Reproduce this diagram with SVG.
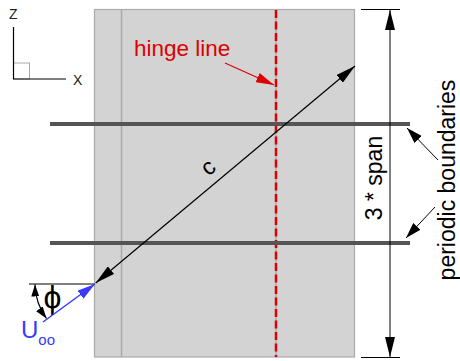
<svg xmlns="http://www.w3.org/2000/svg" width="460" height="361" viewBox="0 0 460 361">
<defs>
<style>
text{font-family:"Liberation Sans",Arial,sans-serif}
.blk{stroke:#000;stroke-width:1.2;fill:none}
.bar{stroke:#555;stroke-width:4}
.gl{stroke:#aaa;stroke-width:1.5}
</style>
<marker id="ah" viewBox="0 0 20 10" refX="20" refY="5" markerWidth="20" markerHeight="10" markerUnits="userSpaceOnUse" orient="auto-start-reverse"><path d="M0,0L20,5L0,10z" fill="#000"/></marker>
<marker id="ahs" viewBox="0 0 16 10" refX="16" refY="5" markerWidth="16" markerHeight="10" markerUnits="userSpaceOnUse" orient="auto-start-reverse"><path d="M0,0L16,5L0,10z" fill="#000"/></marker>
<marker id="ahr" viewBox="0 0 18 10" refX="18" refY="5" markerWidth="18" markerHeight="10" markerUnits="userSpaceOnUse" orient="auto"><path d="M0,0L18,5L0,10z" fill="#dd0000"/></marker>
<marker id="ahb" viewBox="0 0 18 10" refX="18" refY="5" markerWidth="18" markerHeight="10" markerUnits="userSpaceOnUse" orient="auto"><path d="M0,0L18,5L0,10z" fill="#3a3aff"/></marker>
<marker id="aha" viewBox="0 0 12 8" refX="12" refY="4" markerWidth="12" markerHeight="8" markerUnits="userSpaceOnUse" orient="auto-start-reverse"><path d="M0,0L12,4L0,8z" fill="#000"/></marker>
</defs>
<rect width="460" height="361" fill="#fff"/>
<g id="axes">
<rect x="13.5" y="63" width="16" height="16" fill="none" stroke="#aaa" stroke-width="1"/>
<line x1="13.5" y1="27" x2="13.5" y2="79" stroke="#000" stroke-width="1.2"/>
<line x1="13" y1="79" x2="66" y2="79" stroke="#000" stroke-width="1.2"/>
<text x="9" y="19" font-size="14" fill="#222">Z</text>
<text x="73" y="84.5" font-size="14" fill="#222">X</text>
</g>
<g id="domain">
<rect x="94.5" y="9.5" width="260" height="347.5" fill="#d3d3d3" stroke="#aaa" stroke-width="1.2"/>
<line class="gl" x1="121.5" y1="10" x2="121.5" y2="357"/>
<line class="gl" x1="276" y1="10" x2="276" y2="357"/>
</g>
<g id="hinge">
<line x1="276" y1="10" x2="276" y2="357" stroke="#dd0000" stroke-width="2.5" stroke-dasharray="8,3.5"/>
<text x="134" y="56" font-size="22.5" fill="#dd0000">hinge line</text>
</g>
<g id="boundaries">
<line class="bar" x1="50" y1="124" x2="410" y2="124"/>
<line class="bar" x1="50" y1="243" x2="410" y2="243"/>
<text transform="translate(455,180) rotate(-90)" font-size="23" text-anchor="middle" fill="#000">periodic boundaries</text>
</g>
<g id="span">
<line x1="361" y1="9.5" x2="400" y2="9.5" stroke="#000" stroke-width="1"/>
<line x1="361" y1="357.5" x2="400" y2="357.5" stroke="#000" stroke-width="1"/>
<text transform="translate(382,178) rotate(-90)" font-size="23" text-anchor="middle" fill="#000">3 * span</text>
</g>
<g id="chord">
<text transform="translate(213,173) rotate(-40)" font-size="23" text-anchor="middle" fill="#000">c</text>
</g>
<g id="inflow">
<line x1="29" y1="284" x2="95" y2="284" stroke="#555" stroke-width="1.5"/>
<text x="52.5" y="308" font-size="32" text-anchor="middle" fill="#000">ϕ</text>
<text x="21" y="338" font-size="24" fill="#3a3aff">U<tspan font-size="15" dy="7">oo</tspan></text>
</g>
<g id="connectors">
<line class="blk" x1="95.7" y1="283" x2="355" y2="66" marker-start="url(#ah)" marker-end="url(#ah)"/>
<line x1="390" y1="10" x2="390" y2="357" stroke="#000" stroke-width="1" marker-start="url(#ah)" marker-end="url(#ah)"/>
<line x1="438" y1="160" x2="407" y2="128" stroke="#000" stroke-width="1" marker-end="url(#ahs)"/>
<line x1="435" y1="207" x2="406" y2="238" stroke="#000" stroke-width="1" marker-end="url(#ahs)"/>
<line x1="225" y1="63" x2="274" y2="85" stroke="#dd0000" stroke-width="1.2" marker-end="url(#ahr)"/>
<line x1="43" y1="322" x2="95" y2="284" stroke="#3a3aff" stroke-width="1.5" marker-end="url(#ahb)"/>
<path d="M46.5,318.5A60,60 0 0 1 35,284.5" class="blk" stroke-width="1.5" marker-start="url(#aha)" marker-end="url(#aha)"/>
</g>
</svg>
